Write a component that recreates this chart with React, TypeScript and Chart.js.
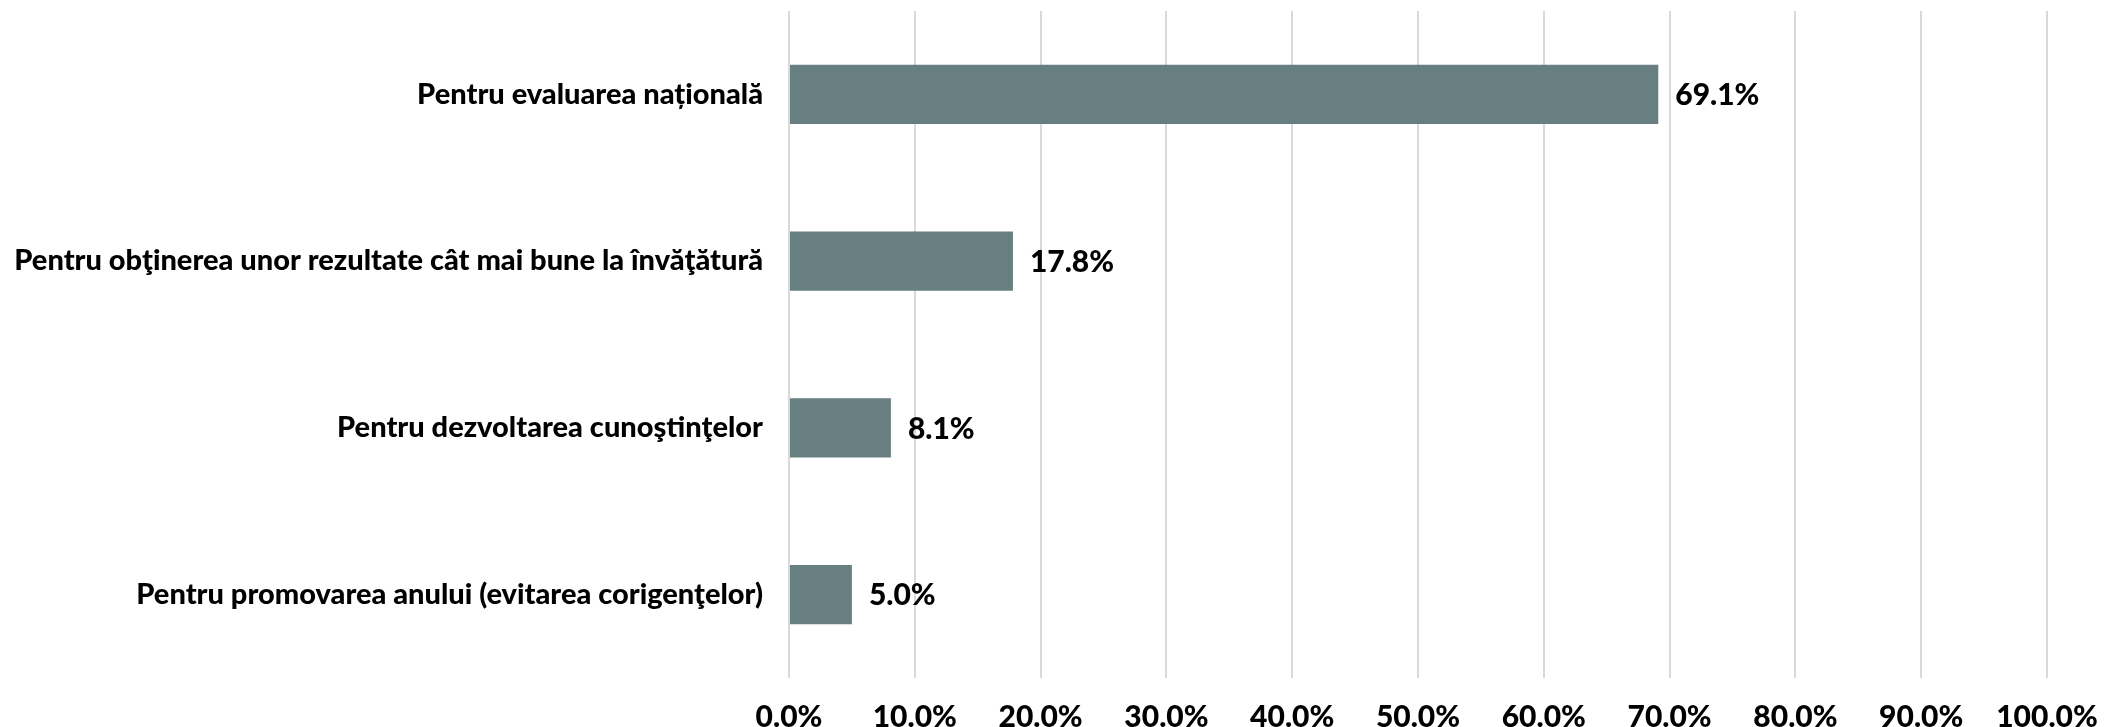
import React, { useEffect, useRef } from "react";
import { Chart, registerables } from "chart.js";

Chart.register(...registerables);

const categories = [
  "Pentru evaluarea națională",
  "Pentru obţinerea unor rezultate cât mai bune la învăţătură",
  "Pentru dezvoltarea cunoştinţelor",
  "Pentru promovarea anului (evitarea corigenţelor)",
];
const values = [69.1, 17.8, 8.1, 5.0];
const tickValues = [0, 10, 20, 30, 40, 50, 60, 70, 80, 90, 100];

const FONT = "Lato, 'Noto Sans', sans-serif";
const LABEL_SIZE = 29;
const NUMBER_SIZE = 30;
const FONT_WEIGHT = 900;
const BAR_COLOR = "#677f80";
const GRID_COLOR = "#d9d9d9";

const valueLabels = {
  id: "valueLabels",
  afterDatasetsDraw(chart: any) {
    const ctx = chart.ctx;
    const meta = chart.getDatasetMeta(0);
    ctx.save();
    ctx.font = `${FONT_WEIGHT} ${NUMBER_SIZE}px ${FONT}`;
    ctx.fillStyle = "#000";
    ctx.textAlign = "left";
    ctx.textBaseline = "middle";
    meta.data.forEach((bar: any, i: number) => {
      ctx.fillText(values[i].toFixed(1) + "%", bar.x + 17, bar.y + 1);
    });
    ctx.restore();
  },
};

export default function App() {
  const canvasRef = useRef<HTMLCanvasElement | null>(null);

  useEffect(() => {
    document.body.style.margin = "0";
    const chart = new Chart(canvasRef.current!, {
      type: "bar",
      data: {
        labels: categories,
        datasets: [
          {
            data: values,
            backgroundColor: BAR_COLOR,
            categoryPercentage: 1,
            barPercentage: 0.354,
          },
        ],
      },
      options: {
        indexAxis: "y",
        animation: false,
        responsive: true,
        maintainAspectRatio: false,
        layout: { padding: { top: 11, right: 58, bottom: 0, left: 0 } },
        plugins: { legend: { display: false }, tooltip: { enabled: false } },
        scales: {
          x: {
            min: 0,
            max: 100,
            afterBuildTicks(scale: any) {
              scale.ticks = tickValues.map((v) => ({ value: v }));
            },
            afterFit(scale: any) {
              scale.height = 49;
              scale.paddingLeft = 0;
              scale.paddingRight = 0;
            },
            grid: { color: GRID_COLOR, lineWidth: 2, drawTicks: false },
            border: { display: false },
            ticks: {
              padding: 21,
              color: "#000",
              font: { family: FONT, size: NUMBER_SIZE, weight: FONT_WEIGHT as any },
              callback: (v: any) => Number(v).toFixed(1) + "%",
            },
          },
          y: {
            afterFit(scale: any) {
              scale.width = 789;
              scale.paddingTop = 0;
              scale.paddingBottom = 0;
            },
            grid: { display: false, drawTicks: false },
            border: { display: false },
            ticks: {
              padding: 26,
              color: "#000",
              font: { family: FONT, size: LABEL_SIZE, weight: FONT_WEIGHT as any },
            },
          },
        },
      },
      plugins: [valueLabels],
    });
    return () => chart.destroy();
  }, []);

  return (
    <div style={{ position: "absolute", left: 0, top: 0, width: 2105, height: 727 }}>
      <canvas ref={canvasRef} />
    </div>
  );
}
